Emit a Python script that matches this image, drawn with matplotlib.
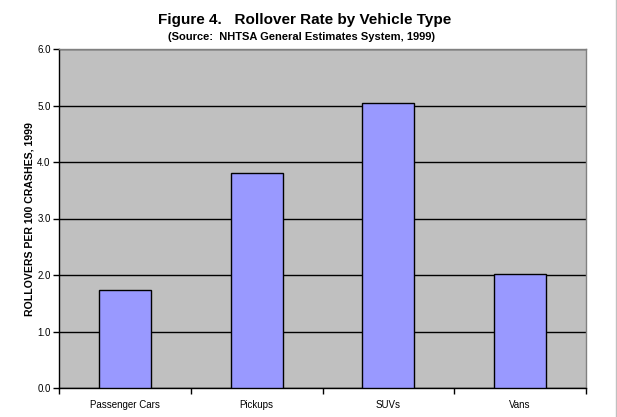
import matplotlib.pyplot as plt
from matplotlib.ticker import FixedLocator, NullFormatter

plt.rcParams['font.family'] = ['Liberation Sans', 'DejaVu Sans']

tipos = ["Passenger Cars", "Pickups", "SUVs", "Vans"]
taxas = [1.73, 3.80, 5.05, 2.02]
y_ticks = [0, 1, 2, 3, 4, 5, 6]

fig = plt.figure(figsize=(6.17, 4.17), dpi=100)
ax = fig.add_axes([59 / 617, 29 / 417, 527 / 617, 339 / 417])
ax.set_facecolor('#C0C0C0')

x = list(range(len(tipos)))
ax.bar(x, taxas, width=0.395, color='#9999FF', edgecolor='black', linewidth=1, zorder=3)

ax.set_xlim(-0.5, len(tipos) - 0.5)
ax.set_ylim(0, 6)
ax.set_yticks(y_ticks)
ax.set_yticklabels(["%.1f" % v for v in y_ticks], fontsize=7)
ax.yaxis.grid(True, color='black', linewidth=1, zorder=1)
ax.set_axisbelow(True)

# rotulos no centro, tracinhos nas divisas das categorias
ax.set_xticks(x)
ax.set_xticklabels(tipos, fontsize=7)
ax.tick_params(axis='x', which='major', length=0, pad=9)
ax.xaxis.set_minor_locator(FixedLocator([i - 0.5 for i in range(len(tipos) + 1)]))
ax.xaxis.set_minor_formatter(NullFormatter())
ax.tick_params(axis='x', which='minor', length=4, width=1, color='black')
ax.tick_params(axis='y', length=4, width=1, color='black', pad=2)

ax.spines['left'].set_color('black')
ax.spines['bottom'].set_color('black')
ax.spines['top'].set_color('#808080')
ax.spines['right'].set_color('#808080')
for s in ax.spines.values():
    s.set_linewidth(1)

ax.set_ylabel("ROLLOVERS PER 100 CRASHES, 1999", fontsize=7.6, fontweight='bold')
ax.yaxis.set_label_coords((35 - 59) / 527, (388 - 219.5) / 339)

fig.text(305 / 617, 1 - 20 / 417, "Figure 4.   Rollover Rate by Vehicle Type",
         ha='center', va='center', fontsize=11, fontweight='bold')
fig.text(302 / 617, 1 - 37 / 417, "(Source:  NHTSA General Estimates System, 1999)",
         ha='center', va='center', fontsize=8, fontweight='bold')

# linha cinza na borda direita
fig.add_artist(plt.Line2D([615.5 / 617, 615.5 / 617], [0, 1], color='#C0C0C0', linewidth=1))

fig.savefig('out.png', dpi=100)
